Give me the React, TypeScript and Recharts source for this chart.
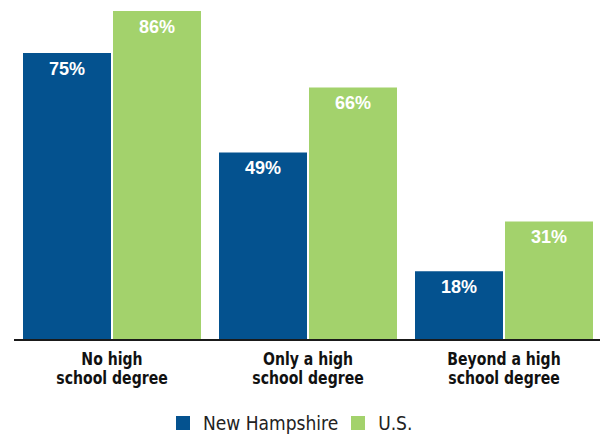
import React from 'react'
import { BarChart, Bar, XAxis, YAxis, Legend, LabelList } from 'recharts'

const categories = ['No high school degree', 'Only a high school degree', 'Beyond a high school degree']
const tickLines = [
  ['No high', 'school degree'],
  ['Only a high', 'school degree'],
  ['Beyond a high', 'school degree'],
]
const newHampshire = [75, 49, 18]
const us = [86, 66, 31]

const NH_COLOR = '#04528f'
const US_COLOR = '#a3d26c'
const CONDENSED = '"DejaVu Sans Condensed", "DejaVu Sans", sans-serif'

const data = categories.map((name, i) => ({ name, nh: newHampshire[i], us: us[i] }))

const CategoryTick = (props: any) => {
  const { x, y, index } = props
  const lines = tickLines[index] || []
  return (
    <g transform={`translate(${x},${y}) scale(0.92,1)`}>
      <text
        textAnchor="middle"
        fill="#111"
        style={{ fontFamily: CONDENSED, fontWeight: 700, fontSize: 17 }}
      >
        {lines.map((l, i) => (
          <tspan key={i} x={0} y={25 + i * 19}>{l}</tspan>
        ))}
      </text>
    </g>
  )
}

const LegendBox = () => {
  const items = [
    { label: 'New Hampshire', color: NH_COLOR },
    { label: 'U.S.', color: US_COLOR },
  ]
  return (
    <div style={{ display: 'flex', alignItems: 'center', height: 32 }}>
      {items.map((it) => (
        <div key={it.label} style={{ display: 'flex', alignItems: 'center', marginRight: 13 }}>
          <span style={{ width: 14, height: 14, background: it.color, display: 'inline-block', marginRight: 13 }} />
          <span style={{ fontFamily: CONDENSED, fontSize: 19, color: '#222' }}>
            {it.label}
          </span>
        </div>
      ))}
    </div>
  )
}

export default function App() {
  return (
    <div style={{ position: 'absolute', left: 0, top: 0, width: 600, height: 439, overflow: 'hidden', background: '#fff' }}>
      <BarChart
        width={602}
        height={439}
        data={data}
        margin={{ top: 11, right: 0, left: 14, bottom: 0 }}
        barCategoryGap={9}
        barGap={2}
      >
        <XAxis
          dataKey="name"
          axisLine={{ stroke: '#1a1a1a', strokeWidth: 2 }}
          tickLine={false}
          tickSize={0}
          tickMargin={0}
          height={67}
          interval={0}
          tick={<CategoryTick />}
        />
        <YAxis hide domain={[0, 86]} />
        <Legend
          verticalAlign="bottom"
          content={<LegendBox />}
          wrapperStyle={{ left: 176, width: 300 }}
        />
        <Bar dataKey="nh" name="New Hampshire" fill={NH_COLOR} isAnimationActive={false}>
          <LabelList
            dataKey="nh"
            position="insideTop"
            offset={9}
            formatter={(v: any) => `${v}%`}
            style={{ fill: '#fff', fontFamily: '"Liberation Sans", Arial, sans-serif', fontWeight: 700, fontSize: 18 }}
          />
        </Bar>
        <Bar dataKey="us" name="U.S." fill={US_COLOR} isAnimationActive={false}>
          <LabelList
            dataKey="us"
            position="insideTop"
            offset={9}
            formatter={(v: any) => `${v}%`}
            style={{ fill: '#fff', fontFamily: '"Liberation Sans", Arial, sans-serif', fontWeight: 700, fontSize: 18 }}
          />
        </Bar>
      </BarChart>
    </div>
  )
}
